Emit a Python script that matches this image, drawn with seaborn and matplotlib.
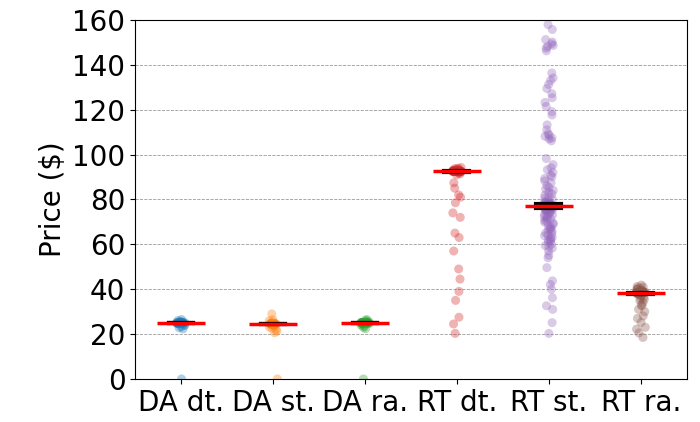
import numpy as np
import pandas as pd
import matplotlib
matplotlib.use('Agg')
import matplotlib.pyplot as plt
import seaborn as sns

np.random.seed(3)

# prices, one list per market/product
da_dt = [0, 22.3, 22.8, 23.3, 23.8, 24.3, 24.6, 24.8, 24.9, 25.0, 25.0, 25.0, 25.0, 25.0,
         25.0, 25.0, 25.0, 25.0, 25.1, 25.1, 25.2, 25.3, 25.6, 26.0, 26.5, 25.0, 25.0, 24.9,
         25.1, 25.0]
da_st = [0, 20.6, 21.3, 22.0, 22.6, 23.2, 23.7, 24.2, 24.4, 24.5, 24.5, 24.5, 24.5, 24.5,
         24.5, 24.5, 24.5, 24.5, 24.5, 24.5, 24.6, 24.8, 25.4, 25.9, 26.4, 29.0, 24.5, 24.5,
         24.5, 24.5, 24.5, 24.6]
da_ra = [0, 22.4, 23.0, 23.5, 24.0, 24.4, 24.7, 24.9, 25.0, 25.0, 25.0, 25.0, 25.0, 25.0,
         25.0, 25.0, 25.0, 25.0, 25.1, 25.1, 25.2, 25.4, 25.7, 26.1, 26.5, 25.0, 25.0, 24.9,
         25.1]
rt_dt = [91.0, 91.4, 91.8, 92.1, 92.3, 92.4, 92.4, 92.5, 92.5, 92.5, 92.5, 92.5, 92.5,
         92.5, 92.5, 92.5, 92.5, 92.5, 92.5, 92.5, 92.5, 92.6, 92.6, 92.6, 92.6, 92.7,
         92.7, 92.8, 92.9, 93.0, 93.1, 93.3, 93.5, 93.7, 93.9, 94.2, 92.5, 92.6, 92.4, 92.5,
         92.5, 92.5, 92.6,
         87.4, 85.0, 82.0, 81.0, 78.5, 74.0, 72.0, 65.0, 63.0, 57.0, 49.0, 44.5, 39.0,
         35.0, 27.5, 24.5, 20.3]
rt_st = [157.9, 155.7, 151.2, 150.1, 149.3, 148.6, 148.1, 147.4, 146.2, 136.3, 134.1,
         133.0, 131.2, 129.4, 127.1, 125.3, 123.2, 121.4, 119.1, 117.6, 113.2, 111.0,
         109.3, 108.6, 108.1, 107.4, 107.0, 106.1, 98.2,
         95.5, 94.1, 93.2, 92.0, 90.8, 90.1, 89.3, 88.2, 87.4, 86.1, 85.3, 84.6, 84.0,
         83.2, 82.4, 81.9, 81.1, 80.6, 80.1, 79.4, 79.0, 78.6, 78.3, 78.0, 77.7, 77.4, 77.2,
         78.4, 78.2, 78.1, 77.9, 77.8, 77.6, 77.5, 77.3, 77.2, 77.1, 77.1, 77.0,
         76.9, 76.9, 76.8, 76.7, 76.6, 76.4, 76.2, 76.0, 75.9, 75.8, 75.7, 75.6,
         76.9, 76.7, 76.3, 76.1, 75.9, 75.7, 75.4, 75.1, 74.8, 74.3, 73.9, 73.4, 72.8,
         72.3, 71.9, 71.2, 70.6, 70.2, 69.4, 68.9, 68.1, 67.7, 67.0, 66.4, 65.9, 65.1,
         64.7, 63.8, 63.2, 62.6, 61.9, 61.3, 60.8, 60.1, 59.4, 58.9, 58.3, 76.5, 75.3,
         74.6, 73.1, 71.6, 69.8, 66.8, 64.2, 62.1,
         57.0, 55.1, 54.0, 49.6, 43.7, 42.1, 40.0, 36.2, 32.6, 31.0, 25.1, 20.3]
rt_ra = [41.8, 41.2, 41.0, 40.5, 40.2, 40.0, 39.8, 39.5, 39.2, 39.0, 38.8, 38.7, 38.6,
         38.5, 38.5, 38.5, 38.5, 38.5, 38.5, 38.5, 38.5, 38.5, 38.5, 38.4, 38.4, 38.3,
         38.2, 38.0, 37.7, 37.3, 37.0, 36.5, 36.0, 35.5, 35.0, 34.0, 33.0, 32.6, 31.0,
         30.0, 28.1, 27.0, 25.2, 23.0, 22.2, 20.5, 18.5, 38.5, 38.6, 38.4, 38.5, 38.5,
         38.5]

labels = ['DA dt.', 'DA st.', 'DA ra.', 'RT dt.', 'RT st.', 'RT ra.']
series = [da_dt, da_st, da_ra, rt_dt, rt_st, rt_ra]

df = pd.DataFrame({
    'market': np.concatenate([[lab] * len(v) for lab, v in zip(labels, series)]),
    'price': np.concatenate(series),
})

fig, ax = plt.subplots(figsize=(7, 4.22), dpi=100)
fig.subplots_adjust(left=0.193, right=0.981, top=0.953, bottom=0.102)

sns.stripplot(data=df, x='market', y='price', hue='market', order=labels,
              palette='tab10', jitter=0.05, size=6.5, alpha=0.35, linewidth=0,
              legend=False, ax=ax, zorder=2)

# bootstrapped CI of the median
sns.pointplot(data=df, x='market', y='price', order=labels, estimator='median',
              errorbar=('ci', 95), seed=0, capsize=0.27, color='black',
              linestyle='none', markersize=0, err_kws={'linewidth': 3, 'zorder': 4},
              ax=ax)

# red median lines
sns.boxplot(data=df, x='market', y='price', order=labels, width=0.52,
            showbox=False, showcaps=False, showfliers=False,
            whiskerprops={'visible': False},
            medianprops={'color': 'red', 'linewidth': 2.5, 'zorder': 5},
            ax=ax)

ax.set_ylim(0, 160)
ax.set_xlim(-0.5, 5.5)
ax.set_yticks(range(0, 161, 20))
ax.yaxis.grid(True, linestyle='--', color='gray', linewidth=0.6, alpha=0.8)
ax.set_axisbelow(True)
ax.set_xlabel('')
ax.set_ylabel('Price ($)', fontsize=20)
ax.tick_params(labelsize=20)

plt.savefig('out.png', dpi=100)
